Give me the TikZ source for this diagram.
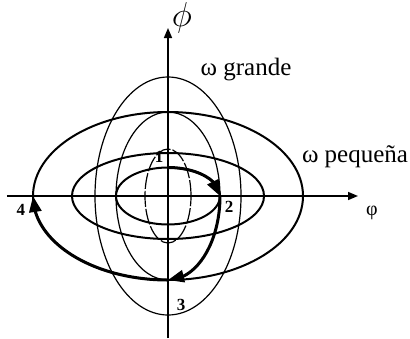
\documentclass[tikz,border=0pt]{standalone}
\usepackage{amsmath}
\usepackage{fontspec}
\setmainfont{Liberation Serif}
\usepackage{tikz}
\usetikzlibrary{arrows.meta}
\usetikzlibrary{bending}

\begin{document}
\begin{tikzpicture}[x=0.5pt, y=0.5pt, line width=0.75pt,
			axis/.style={-{Triangle[length=5pt, width=4pt]}},
			hell/.style={line width=1pt},
			vell/.style={line width=0.6pt},
			orb/.style={line width=1.5pt, -{Triangle[length=8pt, width=6pt, flex]}},
			num/.style={font=\fontsize{8.5}{10}\selectfont\bfseries, inner sep=0pt},
			txt/.style={font=\fontsize{12.5}{15}\selectfont, inner sep=0pt}]

		\useasboundingbox (-168,-142) rectangle (242,196);

		\coordinate (o) at (0,0);
		\coordinate (xa) at (-161,0);
		\coordinate (xb) at (190,0);
		\coordinate (ya) at (0,-142);
		\coordinate (yb) at (0,168);
		\coordinate (p1) at (0,28.5);
		\coordinate (p2) at (52,0);
		\coordinate (p3) at (0,-84);
		\coordinate (p4) at (-135,0);

		% ellipses
		\draw[vell, dash pattern=on 8pt off 1pt] (o) ellipse[x radius=23, y radius=47];
		\draw[vell] (o) ellipse[x radius=52, y radius=84];
		\draw[vell] (o) ellipse[x radius=73, y radius=119];
		\draw[hell] (o) ellipse[x radius=52, y radius=28.5];
		\draw[hell] (o) ellipse[x radius=96, y radius=43];
		\draw[hell] (o) ellipse[x radius=135, y radius=84];

		\draw[axis] (xa) -- (xb);
		\draw[axis] (ya) -- (yb);

		\draw[orb] (p1) arc[start angle=90, end angle=0, x radius=52, y radius=28.5];
		\draw[orb] (p2) arc[start angle=0, end angle=-90, x radius=52, y radius=84];
		\draw[orb] (p3) arc[start angle=-90, end angle=-180, x radius=135, y radius=84];

		\node[num] (n1) at (-9,39) {1};
		\node[num] (n2) at (61,-11) {2};
		\node[num] (n3) at (13,-109) {3};
		\node[num] (n4) at (-147,-14) {4};

		\node[txt] (big) at (78,126) {ω grande};
		\node[txt] (small) at (187,39) {ω pequeña};
		\node[font=\fontsize{10}{12}\selectfont, inner sep=0pt] (xl) at (204,-17) {φ};
		\node[font=\fontsize{17}{20}\selectfont, inner sep=0pt] (yl) at (14,178) {\(\phi\)};
	\end{tikzpicture}
\end{document}
